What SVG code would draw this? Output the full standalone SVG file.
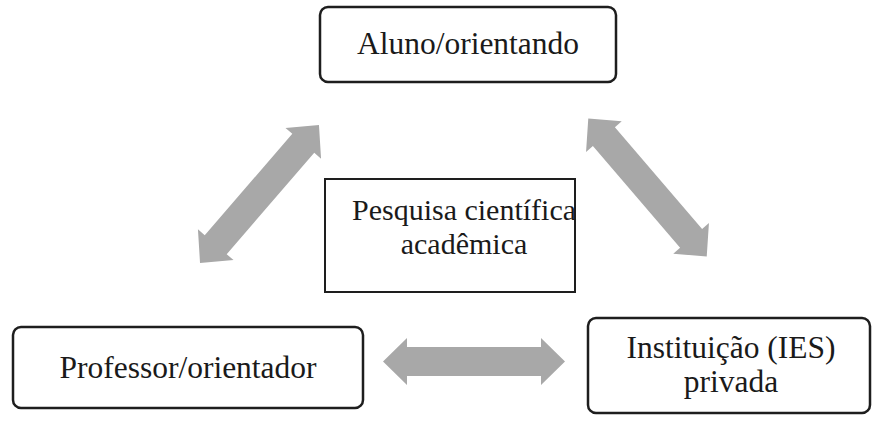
<svg xmlns="http://www.w3.org/2000/svg" width="878" height="426" viewBox="0 0 878 426">
<defs>
<style>
.box{fill:#fff;stroke:#1e1e1e;stroke-width:2.5}
.sq{fill:#fff;stroke:#1e1e1e;stroke-width:2}
.t{font-size:31.5px;fill:#1a1a1a;text-anchor:middle}
.c{font-size:30px}
.arr{fill:#a8a8a8}
</style>
<path id="dbl" d="M-91,0 L-67,-23.5 L-67,-14.5 L67,-14.5 L67,-23.5 L91,0 L67,23.5 L67,14.5 L-67,14.5 L-67,23.5 Z"/>
</defs>
<rect width="878" height="426" fill="#fff"/>
<g id="connectors">
<use href="#dbl" class="arr" transform="translate(259.5,194) rotate(-49.2)"/>
<use href="#dbl" class="arr" transform="translate(647.5,187.5) rotate(49.4)"/>
<use href="#dbl" class="arr" transform="translate(474,361.5)"/>
</g>
<g font-family="Liberation Serif, Times New Roman, serif">
<g id="aluno">
<rect class="box" x="320" y="7" width="296" height="75" rx="8"/>
<text class="t" x="468" y="54">Aluno/orientando</text>
</g>
<g id="pesquisa">
<rect class="sq" x="325" y="179" width="250" height="113"/>
<text class="t c" x="464" y="220">Pesquisa científica</text>
<text class="t c" x="464" y="254">acadêmica</text>
</g>
<g id="professor">
<rect class="box" x="13" y="327" width="350" height="81" rx="8"/>
<text class="t" x="188" y="378">Professor/orientador</text>
</g>
<g id="instituicao">
<rect class="box" x="588" y="318" width="282" height="95" rx="8"/>
<text class="t" x="731" y="358">Instituição (IES)</text>
<text class="t" x="731" y="392">privada</text>
</g>
</g>
</svg>
